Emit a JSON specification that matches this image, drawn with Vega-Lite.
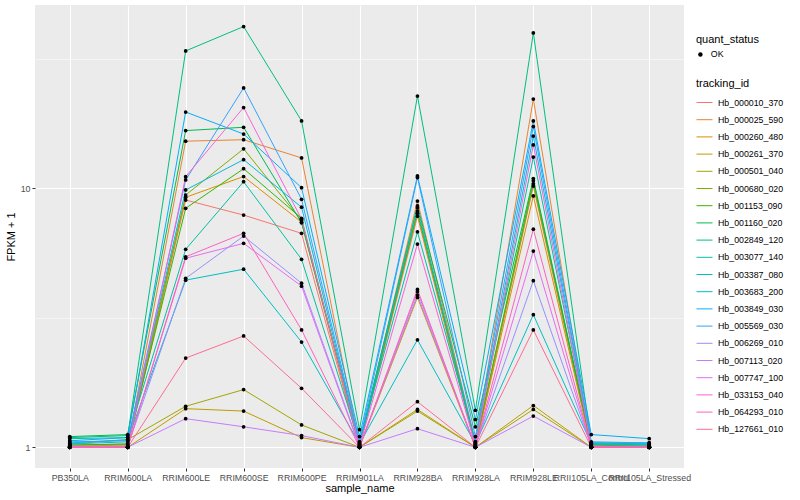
{
"$schema": "https://vega.github.io/schema/vega-lite/v6.json",
"autosize": {"type": "none"},
"width": 649, "height": 463,
"padding": {"left": 35, "top": 5, "right": 116, "bottom": 32},
"background": "white",
"config": {
  "view": {"fill": "#EBEBEB", "stroke": null},
  "font": "Liberation Sans",
  "axis": {"domain": false, "grid": true, "gridColor": "#FFFFFF", "gridWidth": 1.1, "tickColor": "#333333", "tickSize": 3, "tickWidth": 1, "labelColor": "#4D4D4D", "labelFontSize": 8.8, "labelPadding": 2, "titleFontSize": 11, "titleFontWeight": "normal", "titleColor": "#000000", "labelFont": "Liberation Sans", "titleFont": "Liberation Sans"},
  "legend": {"labelFont": "Liberation Sans", "titleFont": "Liberation Sans", "titleFontWeight": "normal", "titleFontSize": 11, "labelFontSize": 8.8, "labelColor": "#000000", "titleColor": "#000000", "padding": 0}
},
"data": {"values": [
{"tracking_id":"Hb_000010_370","sample_name":"PB350LA","fpkm":1.0,"quant_status":"OK"},
{"tracking_id":"Hb_000010_370","sample_name":"RRIM600LA","fpkm":1.0,"quant_status":"OK"},
{"tracking_id":"Hb_000010_370","sample_name":"RRIM600LE","fpkm":9.01,"quant_status":"OK"},
{"tracking_id":"Hb_000010_370","sample_name":"RRIM600SE","fpkm":7.88,"quant_status":"OK"},
{"tracking_id":"Hb_000010_370","sample_name":"RRIM600PE","fpkm":6.70,"quant_status":"OK"},
{"tracking_id":"Hb_000010_370","sample_name":"RRIM901LA","fpkm":1.0,"quant_status":"OK"},
{"tracking_id":"Hb_000010_370","sample_name":"RRIM928BA","fpkm":7.8,"quant_status":"OK"},
{"tracking_id":"Hb_000010_370","sample_name":"RRIM928LA","fpkm":1.0,"quant_status":"OK"},
{"tracking_id":"Hb_000010_370","sample_name":"RRIM928LE","fpkm":10.2,"quant_status":"OK"},
{"tracking_id":"Hb_000010_370","sample_name":"RRII105LA_Control","fpkm":1.0,"quant_status":"OK"},
{"tracking_id":"Hb_000010_370","sample_name":"RRII105LA_Stressed","fpkm":1.0,"quant_status":"OK"},
{"tracking_id":"Hb_000025_590","sample_name":"PB350LA","fpkm":1.01,"quant_status":"OK"},
{"tracking_id":"Hb_000025_590","sample_name":"RRIM600LA","fpkm":1.02,"quant_status":"OK"},
{"tracking_id":"Hb_000025_590","sample_name":"RRIM600LE","fpkm":15.2,"quant_status":"OK"},
{"tracking_id":"Hb_000025_590","sample_name":"RRIM600SE","fpkm":15.4,"quant_status":"OK"},
{"tracking_id":"Hb_000025_590","sample_name":"RRIM600PE","fpkm":13.1,"quant_status":"OK"},
{"tracking_id":"Hb_000025_590","sample_name":"RRIM901LA","fpkm":1.02,"quant_status":"OK"},
{"tracking_id":"Hb_000025_590","sample_name":"RRIM928BA","fpkm":8.93,"quant_status":"OK"},
{"tracking_id":"Hb_000025_590","sample_name":"RRIM928LA","fpkm":1.05,"quant_status":"OK"},
{"tracking_id":"Hb_000025_590","sample_name":"RRIM928LE","fpkm":22.1,"quant_status":"OK"},
{"tracking_id":"Hb_000025_590","sample_name":"RRII105LA_Control","fpkm":1.01,"quant_status":"OK"},
{"tracking_id":"Hb_000025_590","sample_name":"RRII105LA_Stressed","fpkm":1.0,"quant_status":"OK"},
{"tracking_id":"Hb_000260_480","sample_name":"PB350LA","fpkm":1.01,"quant_status":"OK"},
{"tracking_id":"Hb_000260_480","sample_name":"RRIM600LA","fpkm":1.01,"quant_status":"OK"},
{"tracking_id":"Hb_000260_480","sample_name":"RRIM600LE","fpkm":9.23,"quant_status":"OK"},
{"tracking_id":"Hb_000260_480","sample_name":"RRIM600SE","fpkm":11.1,"quant_status":"OK"},
{"tracking_id":"Hb_000260_480","sample_name":"RRIM600PE","fpkm":7.4,"quant_status":"OK"},
{"tracking_id":"Hb_000260_480","sample_name":"RRIM901LA","fpkm":1.0,"quant_status":"OK"},
{"tracking_id":"Hb_000260_480","sample_name":"RRIM928BA","fpkm":3.79,"quant_status":"OK"},
{"tracking_id":"Hb_000260_480","sample_name":"RRIM928LA","fpkm":1.0,"quant_status":"OK"},
{"tracking_id":"Hb_000260_480","sample_name":"RRIM928LE","fpkm":9.34,"quant_status":"OK"},
{"tracking_id":"Hb_000260_480","sample_name":"RRII105LA_Control","fpkm":1.0,"quant_status":"OK"},
{"tracking_id":"Hb_000260_480","sample_name":"RRII105LA_Stressed","fpkm":1.0,"quant_status":"OK"},
{"tracking_id":"Hb_000261_370","sample_name":"PB350LA","fpkm":1.0,"quant_status":"OK"},
{"tracking_id":"Hb_000261_370","sample_name":"RRIM600LA","fpkm":1.0,"quant_status":"OK"},
{"tracking_id":"Hb_000261_370","sample_name":"RRIM600LE","fpkm":1.41,"quant_status":"OK"},
{"tracking_id":"Hb_000261_370","sample_name":"RRIM600SE","fpkm":1.38,"quant_status":"OK"},
{"tracking_id":"Hb_000261_370","sample_name":"RRIM600PE","fpkm":1.09,"quant_status":"OK"},
{"tracking_id":"Hb_000261_370","sample_name":"RRIM901LA","fpkm":1.0,"quant_status":"OK"},
{"tracking_id":"Hb_000261_370","sample_name":"RRIM928BA","fpkm":1.40,"quant_status":"OK"},
{"tracking_id":"Hb_000261_370","sample_name":"RRIM928LA","fpkm":1.0,"quant_status":"OK"},
{"tracking_id":"Hb_000261_370","sample_name":"RRIM928LE","fpkm":1.45,"quant_status":"OK"},
{"tracking_id":"Hb_000261_370","sample_name":"RRII105LA_Control","fpkm":1.0,"quant_status":"OK"},
{"tracking_id":"Hb_000261_370","sample_name":"RRII105LA_Stressed","fpkm":1.0,"quant_status":"OK"},
{"tracking_id":"Hb_000501_040","sample_name":"PB350LA","fpkm":1.03,"quant_status":"OK"},
{"tracking_id":"Hb_000501_040","sample_name":"RRIM600LA","fpkm":1.07,"quant_status":"OK"},
{"tracking_id":"Hb_000501_040","sample_name":"RRIM600LE","fpkm":1.44,"quant_status":"OK"},
{"tracking_id":"Hb_000501_040","sample_name":"RRIM600SE","fpkm":1.67,"quant_status":"OK"},
{"tracking_id":"Hb_000501_040","sample_name":"RRIM600PE","fpkm":1.22,"quant_status":"OK"},
{"tracking_id":"Hb_000501_040","sample_name":"RRIM901LA","fpkm":1.0,"quant_status":"OK"},
{"tracking_id":"Hb_000501_040","sample_name":"RRIM928BA","fpkm":1.38,"quant_status":"OK"},
{"tracking_id":"Hb_000501_040","sample_name":"RRIM928LA","fpkm":1.0,"quant_status":"OK"},
{"tracking_id":"Hb_000501_040","sample_name":"RRIM928LE","fpkm":1.40,"quant_status":"OK"},
{"tracking_id":"Hb_000501_040","sample_name":"RRII105LA_Control","fpkm":1.0,"quant_status":"OK"},
{"tracking_id":"Hb_000501_040","sample_name":"RRII105LA_Stressed","fpkm":1.0,"quant_status":"OK"},
{"tracking_id":"Hb_000680_020","sample_name":"PB350LA","fpkm":1.02,"quant_status":"OK"},
{"tracking_id":"Hb_000680_020","sample_name":"RRIM600LA","fpkm":1.03,"quant_status":"OK"},
{"tracking_id":"Hb_000680_020","sample_name":"RRIM600LE","fpkm":9.42,"quant_status":"OK"},
{"tracking_id":"Hb_000680_020","sample_name":"RRIM600SE","fpkm":14.2,"quant_status":"OK"},
{"tracking_id":"Hb_000680_020","sample_name":"RRIM600PE","fpkm":7.50,"quant_status":"OK"},
{"tracking_id":"Hb_000680_020","sample_name":"RRIM901LA","fpkm":1.02,"quant_status":"OK"},
{"tracking_id":"Hb_000680_020","sample_name":"RRIM928BA","fpkm":8.01,"quant_status":"OK"},
{"tracking_id":"Hb_000680_020","sample_name":"RRIM928LA","fpkm":1.02,"quant_status":"OK"},
{"tracking_id":"Hb_000680_020","sample_name":"RRIM928LE","fpkm":10.4,"quant_status":"OK"},
{"tracking_id":"Hb_000680_020","sample_name":"RRII105LA_Control","fpkm":1.02,"quant_status":"OK"},
{"tracking_id":"Hb_000680_020","sample_name":"RRII105LA_Stressed","fpkm":1.01,"quant_status":"OK"},
{"tracking_id":"Hb_001153_090","sample_name":"PB350LA","fpkm":1.02,"quant_status":"OK"},
{"tracking_id":"Hb_001153_090","sample_name":"RRIM600LA","fpkm":1.03,"quant_status":"OK"},
{"tracking_id":"Hb_001153_090","sample_name":"RRIM600LE","fpkm":8.37,"quant_status":"OK"},
{"tracking_id":"Hb_001153_090","sample_name":"RRIM600SE","fpkm":11.9,"quant_status":"OK"},
{"tracking_id":"Hb_001153_090","sample_name":"RRIM600PE","fpkm":7.66,"quant_status":"OK"},
{"tracking_id":"Hb_001153_090","sample_name":"RRIM901LA","fpkm":1.02,"quant_status":"OK"},
{"tracking_id":"Hb_001153_090","sample_name":"RRIM928BA","fpkm":8.17,"quant_status":"OK"},
{"tracking_id":"Hb_001153_090","sample_name":"RRIM928LA","fpkm":1.03,"quant_status":"OK"},
{"tracking_id":"Hb_001153_090","sample_name":"RRIM928LE","fpkm":10.7,"quant_status":"OK"},
{"tracking_id":"Hb_001153_090","sample_name":"RRII105LA_Control","fpkm":1.02,"quant_status":"OK"},
{"tracking_id":"Hb_001153_090","sample_name":"RRII105LA_Stressed","fpkm":1.01,"quant_status":"OK"},
{"tracking_id":"Hb_001160_020","sample_name":"PB350LA","fpkm":1.10,"quant_status":"OK"},
{"tracking_id":"Hb_001160_020","sample_name":"RRIM600LA","fpkm":1.12,"quant_status":"OK"},
{"tracking_id":"Hb_001160_020","sample_name":"RRIM600LE","fpkm":16.7,"quant_status":"OK"},
{"tracking_id":"Hb_001160_020","sample_name":"RRIM600SE","fpkm":17.2,"quant_status":"OK"},
{"tracking_id":"Hb_001160_020","sample_name":"RRIM600PE","fpkm":7.36,"quant_status":"OK"},
{"tracking_id":"Hb_001160_020","sample_name":"RRIM901LA","fpkm":1.05,"quant_status":"OK"},
{"tracking_id":"Hb_001160_020","sample_name":"RRIM928BA","fpkm":8.55,"quant_status":"OK"},
{"tracking_id":"Hb_001160_020","sample_name":"RRIM928LA","fpkm":1.20,"quant_status":"OK"},
{"tracking_id":"Hb_001160_020","sample_name":"RRIM928LE","fpkm":10.9,"quant_status":"OK"},
{"tracking_id":"Hb_001160_020","sample_name":"RRII105LA_Control","fpkm":1.03,"quant_status":"OK"},
{"tracking_id":"Hb_001160_020","sample_name":"RRII105LA_Stressed","fpkm":1.02,"quant_status":"OK"},
{"tracking_id":"Hb_002849_120","sample_name":"PB350LA","fpkm":1.09,"quant_status":"OK"},
{"tracking_id":"Hb_002849_120","sample_name":"RRIM600LA","fpkm":1.11,"quant_status":"OK"},
{"tracking_id":"Hb_002849_120","sample_name":"RRIM600LE","fpkm":33.9,"quant_status":"OK"},
{"tracking_id":"Hb_002849_120","sample_name":"RRIM600SE","fpkm":42.1,"quant_status":"OK"},
{"tracking_id":"Hb_002849_120","sample_name":"RRIM600PE","fpkm":18.2,"quant_status":"OK"},
{"tracking_id":"Hb_002849_120","sample_name":"RRIM901LA","fpkm":1.17,"quant_status":"OK"},
{"tracking_id":"Hb_002849_120","sample_name":"RRIM928BA","fpkm":22.7,"quant_status":"OK"},
{"tracking_id":"Hb_002849_120","sample_name":"RRIM928LA","fpkm":1.39,"quant_status":"OK"},
{"tracking_id":"Hb_002849_120","sample_name":"RRIM928LE","fpkm":39.8,"quant_status":"OK"},
{"tracking_id":"Hb_002849_120","sample_name":"RRII105LA_Control","fpkm":1.04,"quant_status":"OK"},
{"tracking_id":"Hb_002849_120","sample_name":"RRII105LA_Stressed","fpkm":1.03,"quant_status":"OK"},
{"tracking_id":"Hb_003077_140","sample_name":"PB350LA","fpkm":1.08,"quant_status":"OK"},
{"tracking_id":"Hb_003077_140","sample_name":"RRIM600LA","fpkm":1.09,"quant_status":"OK"},
{"tracking_id":"Hb_003077_140","sample_name":"RRIM600LE","fpkm":5.81,"quant_status":"OK"},
{"tracking_id":"Hb_003077_140","sample_name":"RRIM600SE","fpkm":10.6,"quant_status":"OK"},
{"tracking_id":"Hb_003077_140","sample_name":"RRIM600PE","fpkm":5.32,"quant_status":"OK"},
{"tracking_id":"Hb_003077_140","sample_name":"RRIM901LA","fpkm":1.04,"quant_status":"OK"},
{"tracking_id":"Hb_003077_140","sample_name":"RRIM928BA","fpkm":6.79,"quant_status":"OK"},
{"tracking_id":"Hb_003077_140","sample_name":"RRIM928LA","fpkm":1.05,"quant_status":"OK"},
{"tracking_id":"Hb_003077_140","sample_name":"RRIM928LE","fpkm":13.2,"quant_status":"OK"},
{"tracking_id":"Hb_003077_140","sample_name":"RRII105LA_Control","fpkm":1.03,"quant_status":"OK"},
{"tracking_id":"Hb_003077_140","sample_name":"RRII105LA_Stressed","fpkm":1.02,"quant_status":"OK"},
{"tracking_id":"Hb_003387_080","sample_name":"PB350LA","fpkm":1.04,"quant_status":"OK"},
{"tracking_id":"Hb_003387_080","sample_name":"RRIM600LA","fpkm":1.07,"quant_status":"OK"},
{"tracking_id":"Hb_003387_080","sample_name":"RRIM600LE","fpkm":4.42,"quant_status":"OK"},
{"tracking_id":"Hb_003387_080","sample_name":"RRIM600SE","fpkm":4.87,"quant_status":"OK"},
{"tracking_id":"Hb_003387_080","sample_name":"RRIM600PE","fpkm":2.55,"quant_status":"OK"},
{"tracking_id":"Hb_003387_080","sample_name":"RRIM901LA","fpkm":1.03,"quant_status":"OK"},
{"tracking_id":"Hb_003387_080","sample_name":"RRIM928BA","fpkm":2.60,"quant_status":"OK"},
{"tracking_id":"Hb_003387_080","sample_name":"RRIM928LA","fpkm":1.03,"quant_status":"OK"},
{"tracking_id":"Hb_003387_080","sample_name":"RRIM928LE","fpkm":3.25,"quant_status":"OK"},
{"tracking_id":"Hb_003387_080","sample_name":"RRII105LA_Control","fpkm":1.03,"quant_status":"OK"},
{"tracking_id":"Hb_003387_080","sample_name":"RRII105LA_Stressed","fpkm":1.03,"quant_status":"OK"},
{"tracking_id":"Hb_003683_200","sample_name":"PB350LA","fpkm":1.03,"quant_status":"OK"},
{"tracking_id":"Hb_003683_200","sample_name":"RRIM600LA","fpkm":1.05,"quant_status":"OK"},
{"tracking_id":"Hb_003683_200","sample_name":"RRIM600LE","fpkm":9.85,"quant_status":"OK"},
{"tracking_id":"Hb_003683_200","sample_name":"RRIM600SE","fpkm":12.9,"quant_status":"OK"},
{"tracking_id":"Hb_003683_200","sample_name":"RRIM600PE","fpkm":8.45,"quant_status":"OK"},
{"tracking_id":"Hb_003683_200","sample_name":"RRIM901LA","fpkm":1.03,"quant_status":"OK"},
{"tracking_id":"Hb_003683_200","sample_name":"RRIM928BA","fpkm":8.42,"quant_status":"OK"},
{"tracking_id":"Hb_003683_200","sample_name":"RRIM928LA","fpkm":1.04,"quant_status":"OK"},
{"tracking_id":"Hb_003683_200","sample_name":"RRIM928LE","fpkm":15.9,"quant_status":"OK"},
{"tracking_id":"Hb_003683_200","sample_name":"RRII105LA_Control","fpkm":1.04,"quant_status":"OK"},
{"tracking_id":"Hb_003683_200","sample_name":"RRII105LA_Stressed","fpkm":1.04,"quant_status":"OK"},
{"tracking_id":"Hb_003849_030","sample_name":"PB350LA","fpkm":1.06,"quant_status":"OK"},
{"tracking_id":"Hb_003849_030","sample_name":"RRIM600LA","fpkm":1.09,"quant_status":"OK"},
{"tracking_id":"Hb_003849_030","sample_name":"RRIM600LE","fpkm":19.7,"quant_status":"OK"},
{"tracking_id":"Hb_003849_030","sample_name":"RRIM600SE","fpkm":16.2,"quant_status":"OK"},
{"tracking_id":"Hb_003849_030","sample_name":"RRIM600PE","fpkm":10.05,"quant_status":"OK"},
{"tracking_id":"Hb_003849_030","sample_name":"RRIM901LA","fpkm":1.10,"quant_status":"OK"},
{"tracking_id":"Hb_003849_030","sample_name":"RRIM928BA","fpkm":11.16,"quant_status":"OK"},
{"tracking_id":"Hb_003849_030","sample_name":"RRIM928LA","fpkm":1.28,"quant_status":"OK"},
{"tracking_id":"Hb_003849_030","sample_name":"RRIM928LE","fpkm":18.2,"quant_status":"OK"},
{"tracking_id":"Hb_003849_030","sample_name":"RRII105LA_Control","fpkm":1.12,"quant_status":"OK"},
{"tracking_id":"Hb_003849_030","sample_name":"RRII105LA_Stressed","fpkm":1.08,"quant_status":"OK"},
{"tracking_id":"Hb_005569_030","sample_name":"PB350LA","fpkm":1.05,"quant_status":"OK"},
{"tracking_id":"Hb_005569_030","sample_name":"RRIM600LA","fpkm":1.06,"quant_status":"OK"},
{"tracking_id":"Hb_005569_030","sample_name":"RRIM600LE","fpkm":10.77,"quant_status":"OK"},
{"tracking_id":"Hb_005569_030","sample_name":"RRIM600SE","fpkm":24.4,"quant_status":"OK"},
{"tracking_id":"Hb_005569_030","sample_name":"RRIM600PE","fpkm":9.07,"quant_status":"OK"},
{"tracking_id":"Hb_005569_030","sample_name":"RRIM901LA","fpkm":1.05,"quant_status":"OK"},
{"tracking_id":"Hb_005569_030","sample_name":"RRIM928BA","fpkm":11.0,"quant_status":"OK"},
{"tracking_id":"Hb_005569_030","sample_name":"RRIM928LA","fpkm":1.10,"quant_status":"OK"},
{"tracking_id":"Hb_005569_030","sample_name":"RRIM928LE","fpkm":17.3,"quant_status":"OK"},
{"tracking_id":"Hb_005569_030","sample_name":"RRII105LA_Control","fpkm":1.05,"quant_status":"OK"},
{"tracking_id":"Hb_005569_030","sample_name":"RRII105LA_Stressed","fpkm":1.04,"quant_status":"OK"},
{"tracking_id":"Hb_006269_010","sample_name":"PB350LA","fpkm":1.01,"quant_status":"OK"},
{"tracking_id":"Hb_006269_010","sample_name":"RRIM600LA","fpkm":1.01,"quant_status":"OK"},
{"tracking_id":"Hb_006269_010","sample_name":"RRIM600LE","fpkm":4.49,"quant_status":"OK"},
{"tracking_id":"Hb_006269_010","sample_name":"RRIM600SE","fpkm":6.54,"quant_status":"OK"},
{"tracking_id":"Hb_006269_010","sample_name":"RRIM600PE","fpkm":4.30,"quant_status":"OK"},
{"tracking_id":"Hb_006269_010","sample_name":"RRIM901LA","fpkm":1.01,"quant_status":"OK"},
{"tracking_id":"Hb_006269_010","sample_name":"RRIM928BA","fpkm":3.87,"quant_status":"OK"},
{"tracking_id":"Hb_006269_010","sample_name":"RRIM928LA","fpkm":1.01,"quant_status":"OK"},
{"tracking_id":"Hb_006269_010","sample_name":"RRIM928LE","fpkm":4.40,"quant_status":"OK"},
{"tracking_id":"Hb_006269_010","sample_name":"RRII105LA_Control","fpkm":1.01,"quant_status":"OK"},
{"tracking_id":"Hb_006269_010","sample_name":"RRII105LA_Stressed","fpkm":1.01,"quant_status":"OK"},
{"tracking_id":"Hb_007113_020","sample_name":"PB350LA","fpkm":1.0,"quant_status":"OK"},
{"tracking_id":"Hb_007113_020","sample_name":"RRIM600LA","fpkm":1.0,"quant_status":"OK"},
{"tracking_id":"Hb_007113_020","sample_name":"RRIM600LE","fpkm":1.29,"quant_status":"OK"},
{"tracking_id":"Hb_007113_020","sample_name":"RRIM600SE","fpkm":1.20,"quant_status":"OK"},
{"tracking_id":"Hb_007113_020","sample_name":"RRIM600PE","fpkm":1.11,"quant_status":"OK"},
{"tracking_id":"Hb_007113_020","sample_name":"RRIM901LA","fpkm":1.0,"quant_status":"OK"},
{"tracking_id":"Hb_007113_020","sample_name":"RRIM928BA","fpkm":1.18,"quant_status":"OK"},
{"tracking_id":"Hb_007113_020","sample_name":"RRIM928LA","fpkm":1.0,"quant_status":"OK"},
{"tracking_id":"Hb_007113_020","sample_name":"RRIM928LE","fpkm":1.32,"quant_status":"OK"},
{"tracking_id":"Hb_007113_020","sample_name":"RRII105LA_Control","fpkm":1.0,"quant_status":"OK"},
{"tracking_id":"Hb_007113_020","sample_name":"RRII105LA_Stressed","fpkm":1.0,"quant_status":"OK"},
{"tracking_id":"Hb_007747_100","sample_name":"PB350LA","fpkm":1.01,"quant_status":"OK"},
{"tracking_id":"Hb_007747_100","sample_name":"RRIM600LA","fpkm":1.0,"quant_status":"OK"},
{"tracking_id":"Hb_007747_100","sample_name":"RRIM600LE","fpkm":5.37,"quant_status":"OK"},
{"tracking_id":"Hb_007747_100","sample_name":"RRIM600SE","fpkm":6.13,"quant_status":"OK"},
{"tracking_id":"Hb_007747_100","sample_name":"RRIM600PE","fpkm":4.19,"quant_status":"OK"},
{"tracking_id":"Hb_007747_100","sample_name":"RRIM901LA","fpkm":1.0,"quant_status":"OK"},
{"tracking_id":"Hb_007747_100","sample_name":"RRIM928BA","fpkm":3.99,"quant_status":"OK"},
{"tracking_id":"Hb_007747_100","sample_name":"RRIM928LA","fpkm":1.0,"quant_status":"OK"},
{"tracking_id":"Hb_007747_100","sample_name":"RRIM928LE","fpkm":5.72,"quant_status":"OK"},
{"tracking_id":"Hb_007747_100","sample_name":"RRII105LA_Control","fpkm":1.0,"quant_status":"OK"},
{"tracking_id":"Hb_007747_100","sample_name":"RRII105LA_Stressed","fpkm":1.0,"quant_status":"OK"},
{"tracking_id":"Hb_033153_040","sample_name":"PB350LA","fpkm":1.0,"quant_status":"OK"},
{"tracking_id":"Hb_033153_040","sample_name":"RRIM600LA","fpkm":1.0,"quant_status":"OK"},
{"tracking_id":"Hb_033153_040","sample_name":"RRIM600LE","fpkm":11.09,"quant_status":"OK"},
{"tracking_id":"Hb_033153_040","sample_name":"RRIM600SE","fpkm":20.5,"quant_status":"OK"},
{"tracking_id":"Hb_033153_040","sample_name":"RRIM600PE","fpkm":7.6,"quant_status":"OK"},
{"tracking_id":"Hb_033153_040","sample_name":"RRIM901LA","fpkm":1.01,"quant_status":"OK"},
{"tracking_id":"Hb_033153_040","sample_name":"RRIM928BA","fpkm":6.09,"quant_status":"OK"},
{"tracking_id":"Hb_033153_040","sample_name":"RRIM928LA","fpkm":1.02,"quant_status":"OK"},
{"tracking_id":"Hb_033153_040","sample_name":"RRIM928LE","fpkm":14.7,"quant_status":"OK"},
{"tracking_id":"Hb_033153_040","sample_name":"RRII105LA_Control","fpkm":1.01,"quant_status":"OK"},
{"tracking_id":"Hb_033153_040","sample_name":"RRII105LA_Stressed","fpkm":1.0,"quant_status":"OK"},
{"tracking_id":"Hb_064293_010","sample_name":"PB350LA","fpkm":1.0,"quant_status":"OK"},
{"tracking_id":"Hb_064293_010","sample_name":"RRIM600LA","fpkm":1.0,"quant_status":"OK"},
{"tracking_id":"Hb_064293_010","sample_name":"RRIM600LE","fpkm":5.44,"quant_status":"OK"},
{"tracking_id":"Hb_064293_010","sample_name":"RRIM600SE","fpkm":6.70,"quant_status":"OK"},
{"tracking_id":"Hb_064293_010","sample_name":"RRIM600PE","fpkm":2.84,"quant_status":"OK"},
{"tracking_id":"Hb_064293_010","sample_name":"RRIM901LA","fpkm":1.0,"quant_status":"OK"},
{"tracking_id":"Hb_064293_010","sample_name":"RRIM928BA","fpkm":4.07,"quant_status":"OK"},
{"tracking_id":"Hb_064293_010","sample_name":"RRIM928LA","fpkm":1.0,"quant_status":"OK"},
{"tracking_id":"Hb_064293_010","sample_name":"RRIM928LE","fpkm":6.95,"quant_status":"OK"},
{"tracking_id":"Hb_064293_010","sample_name":"RRII105LA_Control","fpkm":1.0,"quant_status":"OK"},
{"tracking_id":"Hb_064293_010","sample_name":"RRII105LA_Stressed","fpkm":1.0,"quant_status":"OK"},
{"tracking_id":"Hb_127661_010","sample_name":"PB350LA","fpkm":1.0,"quant_status":"OK"},
{"tracking_id":"Hb_127661_010","sample_name":"RRIM600LA","fpkm":1.0,"quant_status":"OK"},
{"tracking_id":"Hb_127661_010","sample_name":"RRIM600LE","fpkm":2.21,"quant_status":"OK"},
{"tracking_id":"Hb_127661_010","sample_name":"RRIM600SE","fpkm":2.69,"quant_status":"OK"},
{"tracking_id":"Hb_127661_010","sample_name":"RRIM600PE","fpkm":1.69,"quant_status":"OK"},
{"tracking_id":"Hb_127661_010","sample_name":"RRIM901LA","fpkm":1.0,"quant_status":"OK"},
{"tracking_id":"Hb_127661_010","sample_name":"RRIM928BA","fpkm":1.50,"quant_status":"OK"},
{"tracking_id":"Hb_127661_010","sample_name":"RRIM928LA","fpkm":1.0,"quant_status":"OK"},
{"tracking_id":"Hb_127661_010","sample_name":"RRIM928LE","fpkm":2.84,"quant_status":"OK"},
{"tracking_id":"Hb_127661_010","sample_name":"RRII105LA_Control","fpkm":1.0,"quant_status":"OK"},
{"tracking_id":"Hb_127661_010","sample_name":"RRII105LA_Stressed","fpkm":1.0,"quant_status":"OK"}
]},
"encoding": {
  "x": {"field": "sample_name", "type": "nominal", "title": "sample_name",
    "sort": ["PB350LA","RRIM600LA","RRIM600LE","RRIM600SE","RRIM600PE","RRIM901LA","RRIM928BA","RRIM928LA","RRIM928LE","RRII105LA_Control","RRII105LA_Stressed"],
    "scale": {"type": "point", "padding": 0.6},
    "axis": {"labelAngle": 0, "labelOverlap": false, "labelBound": false, "labelFlush": false, "titlePadding": 1}},
  "y": {"field": "fpkm", "type": "quantitative", "title": "FPKM + 1",
    "scale": {"type": "log", "domain": [0.832, 51.0], "nice": false, "zero": false},
    "axis": {"values": [1, 3.1623, 10, 31.623],
      "labelExpr": "datum.value == 1 ? '1' : (datum.value == 10 ? '10' : '')",
      "gridWidth": {"condition": {"test": "datum.value == 1 || datum.value == 10", "value": 1.1}, "value": 0.5},
      "tickOpacity": {"condition": {"test": "datum.value == 1 || datum.value == 10", "value": 1}, "value": 0},
      "titlePadding": 4}}
},
"layer": [
  {"mark": {"type": "line", "strokeWidth": 1},
   "encoding": {"color": {"field": "tracking_id", "type": "nominal", "title": "tracking_id",
     "scale": {"domain": ["Hb_000010_370","Hb_000025_590","Hb_000260_480","Hb_000261_370","Hb_000501_040","Hb_000680_020","Hb_001153_090","Hb_001160_020","Hb_002849_120","Hb_003077_140","Hb_003387_080","Hb_003683_200","Hb_003849_030","Hb_005569_030","Hb_006269_010","Hb_007113_020","Hb_007747_100","Hb_033153_040","Hb_064293_010","Hb_127661_010"],
       "range": ["#F8766D","#EA8331","#D89000","#C09B00","#A3A500","#7CAE00","#39B600","#00BB4E","#00BF7D","#00C1A3","#00BFC4","#00BAE0","#00B0F6","#35A2FF","#9590FF","#C77CFF","#E76BF3","#FA62DB","#FF62BC","#FF6C91"]},
     "legend": {"orient": "none", "legendX": 661, "legendY": 73, "symbolType": "stroke", "symbolSize": 256, "symbolStrokeWidth": 1, "rowPadding": 3.2, "labelOffset": 5}}}},
  {"mark": {"type": "point", "filled": true, "size": 14, "opacity": 1, "color": "#000000"},
   "encoding": {"shape": {"field": "quant_status", "type": "nominal", "title": "quant_status",
     "scale": {"range": ["circle"]},
     "legend": {"orient": "none", "legendX": 661, "legendY": 29, "symbolFillColor": "#000000", "symbolStrokeColor": "#000000", "symbolSize": 20, "labelOffset": 6}}}}
]
}
